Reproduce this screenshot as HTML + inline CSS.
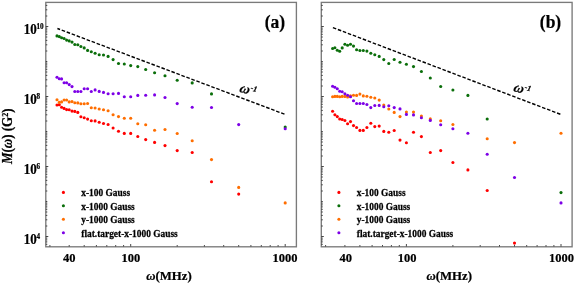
<!DOCTYPE html><html><head><meta charset="utf-8"><style>html,body{margin:0;padding:0;background:#fff;width:575px;height:284px;overflow:hidden}svg{display:block;will-change:transform}</style></head><body>
<svg width="575" height="284" viewBox="0 0 575 284">
<rect width="575" height="284" fill="#fff"/>
<rect x="45.8" y="2.4" width="250.6" height="244.4" fill="none" stroke="#7a7a7a" stroke-width="1.35"/>
<path d="M49.9 246.5V245.0M69.2 246.5V245.0M84.2 246.5V245.0M96.4 246.5V245.0M106.8 246.5V245.0M115.7 246.5V245.0M123.6 246.5V245.0M130.7 246.5V244.0M177.2 246.5V245.0M204.4 246.5V245.0M223.7 246.5V245.0M238.7 246.5V245.0M250.9 246.5V245.0M261.3 246.5V245.0M270.2 246.5V245.0M278.1 246.5V245.0M285.2 246.5V244.0M45.8 244.3H47.3M45.8 241.9H47.3M45.8 239.9H47.3M45.8 238.1H47.3M45.8 236.5H48.3M45.8 226.0H47.3M45.8 219.8H47.3M45.8 215.4H47.3M45.8 212.0H47.3M45.8 209.3H47.3M45.8 206.9H47.3M45.8 204.9H47.3M45.8 203.1H47.3M45.8 201.5H47.3M45.8 191.0H47.3M45.8 184.8H47.3M45.8 180.4H47.3M45.8 177.0H47.3M45.8 174.3H47.3M45.8 171.9H47.3M45.8 169.9H47.3M45.8 168.1H47.3M45.8 166.5H48.3M45.8 156.0H47.3M45.8 149.8H47.3M45.8 145.4H47.3M45.8 142.0H47.3M45.8 139.3H47.3M45.8 136.9H47.3M45.8 134.9H47.3M45.8 133.1H47.3M45.8 131.5H47.3M45.8 121.0H47.3M45.8 114.8H47.3M45.8 110.4H47.3M45.8 107.0H47.3M45.8 104.3H47.3M45.8 101.9H47.3M45.8 99.9H47.3M45.8 98.1H47.3M45.8 96.5H48.3M45.8 86.0H47.3M45.8 79.8H47.3M45.8 75.4H47.3M45.8 72.0H47.3M45.8 69.3H47.3M45.8 66.9H47.3M45.8 64.9H47.3M45.8 63.1H47.3M45.8 61.5H47.3M45.8 51.0H47.3M45.8 44.8H47.3M45.8 40.4H47.3M45.8 37.0H47.3M45.8 34.3H47.3M45.8 31.9H47.3M45.8 29.9H47.3M45.8 28.1H47.3M45.8 26.5H48.3M45.8 16.0H47.3M45.8 9.8H47.3M45.8 5.4H47.3" stroke="#333" stroke-width="0.9" fill="none"/>
<line x1="57.4" y1="28.5" x2="285.1" y2="114.4" stroke="#000" stroke-width="1.4" stroke-dasharray="3.55,1.78" stroke-dashoffset="0.7"/>
<g fill="#ff0000"><circle cx="57.0" cy="105.0" r="1.55"/><circle cx="59.3" cy="104.8" r="1.55"/><circle cx="61.6" cy="107.2" r="1.55"/><circle cx="64.1" cy="108.4" r="1.55"/><circle cx="66.6" cy="109.6" r="1.55"/><circle cx="69.2" cy="109.8" r="1.55"/><circle cx="72.0" cy="111.1" r="1.55"/><circle cx="74.8" cy="111.4" r="1.55"/><circle cx="77.8" cy="112.4" r="1.55"/><circle cx="80.9" cy="116.7" r="1.55"/><circle cx="84.2" cy="117.7" r="1.55"/><circle cx="87.6" cy="119.1" r="1.55"/><circle cx="91.3" cy="120.7" r="1.55"/><circle cx="95.1" cy="120.9" r="1.55"/><circle cx="99.2" cy="122.2" r="1.55"/><circle cx="103.5" cy="123.5" r="1.55"/><circle cx="108.1" cy="124.5" r="1.55"/><circle cx="113.1" cy="128.0" r="1.55"/><circle cx="118.5" cy="131.3" r="1.55"/><circle cx="124.3" cy="133.4" r="1.55"/><circle cx="130.7" cy="133.4" r="1.55"/><circle cx="137.8" cy="136.5" r="1.55"/><circle cx="145.7" cy="139.6" r="1.55"/><circle cx="154.6" cy="142.4" r="1.55"/><circle cx="165.0" cy="145.6" r="1.55"/><circle cx="177.2" cy="150.6" r="1.55"/><circle cx="192.2" cy="152.5" r="1.55"/><circle cx="211.5" cy="181.7" r="1.55"/><circle cx="238.7" cy="194.1" r="1.55"/></g>
<g fill="#0a6e0a"><circle cx="57.0" cy="35.9" r="1.55"/><circle cx="59.3" cy="36.6" r="1.55"/><circle cx="61.6" cy="37.7" r="1.55"/><circle cx="64.1" cy="38.5" r="1.55"/><circle cx="66.6" cy="40.1" r="1.55"/><circle cx="69.2" cy="40.9" r="1.55"/><circle cx="72.0" cy="42.1" r="1.55"/><circle cx="74.8" cy="44.5" r="1.55"/><circle cx="77.8" cy="44.7" r="1.55"/><circle cx="80.9" cy="46.5" r="1.55"/><circle cx="84.2" cy="47.9" r="1.55"/><circle cx="87.6" cy="50.4" r="1.55"/><circle cx="91.3" cy="51.8" r="1.55"/><circle cx="95.1" cy="53.2" r="1.55"/><circle cx="99.2" cy="54.8" r="1.55"/><circle cx="103.5" cy="55.0" r="1.55"/><circle cx="108.1" cy="56.4" r="1.55"/><circle cx="113.1" cy="59.6" r="1.55"/><circle cx="118.5" cy="63.5" r="1.55"/><circle cx="124.3" cy="64.0" r="1.55"/><circle cx="130.7" cy="65.6" r="1.55"/><circle cx="137.8" cy="66.6" r="1.55"/><circle cx="145.7" cy="69.5" r="1.55"/><circle cx="154.6" cy="72.8" r="1.55"/><circle cx="165.0" cy="75.7" r="1.55"/><circle cx="177.2" cy="80.3" r="1.55"/><circle cx="192.2" cy="82.9" r="1.55"/><circle cx="211.5" cy="93.9" r="1.55"/><circle cx="285.2" cy="127.1" r="1.55"/></g>
<g fill="#ff6e00"><circle cx="57.0" cy="99.8" r="1.55"/><circle cx="59.3" cy="102.4" r="1.55"/><circle cx="61.6" cy="101.9" r="1.55"/><circle cx="64.1" cy="100.0" r="1.55"/><circle cx="66.6" cy="100.0" r="1.55"/><circle cx="69.2" cy="101.9" r="1.55"/><circle cx="72.0" cy="101.6" r="1.55"/><circle cx="74.8" cy="102.7" r="1.55"/><circle cx="77.8" cy="102.9" r="1.55"/><circle cx="80.9" cy="103.7" r="1.55"/><circle cx="84.2" cy="103.7" r="1.55"/><circle cx="87.6" cy="103.5" r="1.55"/><circle cx="91.3" cy="107.7" r="1.55"/><circle cx="95.1" cy="108.0" r="1.55"/><circle cx="99.2" cy="109.0" r="1.55"/><circle cx="103.5" cy="109.8" r="1.55"/><circle cx="108.1" cy="110.8" r="1.55"/><circle cx="113.1" cy="114.8" r="1.55"/><circle cx="118.5" cy="116.6" r="1.55"/><circle cx="124.3" cy="118.2" r="1.55"/><circle cx="130.7" cy="118.2" r="1.55"/><circle cx="137.8" cy="123.8" r="1.55"/><circle cx="145.7" cy="124.8" r="1.55"/><circle cx="154.6" cy="130.3" r="1.55"/><circle cx="165.0" cy="129.5" r="1.55"/><circle cx="177.2" cy="133.5" r="1.55"/><circle cx="192.2" cy="140.8" r="1.55"/><circle cx="211.5" cy="159.6" r="1.55"/><circle cx="238.7" cy="187.4" r="1.55"/><circle cx="285.2" cy="202.9" r="1.55"/></g>
<g fill="#7d00e6"><circle cx="57.0" cy="77.2" r="1.55"/><circle cx="59.3" cy="78.7" r="1.55"/><circle cx="61.6" cy="78.9" r="1.55"/><circle cx="64.1" cy="82.7" r="1.55"/><circle cx="66.6" cy="82.7" r="1.55"/><circle cx="69.2" cy="84.6" r="1.55"/><circle cx="72.0" cy="86.6" r="1.55"/><circle cx="74.8" cy="91.5" r="1.55"/><circle cx="77.8" cy="91.5" r="1.55"/><circle cx="80.9" cy="91.5" r="1.55"/><circle cx="84.2" cy="88.8" r="1.55"/><circle cx="87.6" cy="88.8" r="1.55"/><circle cx="91.3" cy="91.5" r="1.55"/><circle cx="95.1" cy="89.9" r="1.55"/><circle cx="99.2" cy="91.4" r="1.55"/><circle cx="103.5" cy="92.4" r="1.55"/><circle cx="108.1" cy="93.8" r="1.55"/><circle cx="113.1" cy="93.8" r="1.55"/><circle cx="118.5" cy="93.4" r="1.55"/><circle cx="124.3" cy="96.7" r="1.55"/><circle cx="130.7" cy="96.7" r="1.55"/><circle cx="137.8" cy="95.4" r="1.55"/><circle cx="145.7" cy="95.3" r="1.55"/><circle cx="154.6" cy="94.9" r="1.55"/><circle cx="165.0" cy="97.5" r="1.55"/><circle cx="177.2" cy="103.6" r="1.55"/><circle cx="192.2" cy="107.2" r="1.55"/><circle cx="211.5" cy="107.5" r="1.55"/><circle cx="238.7" cy="124.6" r="1.55"/><circle cx="285.2" cy="128.8" r="1.55"/></g>
<rect x="321.3" y="2.4" width="250.8" height="244.4" fill="none" stroke="#7a7a7a" stroke-width="1.35"/>
<path d="M325.6 246.5V245.0M344.9 246.5V245.0M359.9 246.5V245.0M372.1 246.5V245.0M382.5 246.5V245.0M391.4 246.5V245.0M399.3 246.5V245.0M406.4 246.5V244.0M452.9 246.5V245.0M480.2 246.5V245.0M499.5 246.5V245.0M514.5 246.5V245.0M526.7 246.5V245.0M537.1 246.5V245.0M546.0 246.5V245.0M553.9 246.5V245.0M561.0 246.5V244.0M321.3 244.3H322.8M321.3 241.9H322.8M321.3 239.9H322.8M321.3 238.1H322.8M321.3 236.5H323.8M321.3 226.0H322.8M321.3 219.8H322.8M321.3 215.4H322.8M321.3 212.0H322.8M321.3 209.3H322.8M321.3 206.9H322.8M321.3 204.9H322.8M321.3 203.1H322.8M321.3 201.5H322.8M321.3 191.0H322.8M321.3 184.8H322.8M321.3 180.4H322.8M321.3 177.0H322.8M321.3 174.3H322.8M321.3 171.9H322.8M321.3 169.9H322.8M321.3 168.1H322.8M321.3 166.5H323.8M321.3 156.0H322.8M321.3 149.8H322.8M321.3 145.4H322.8M321.3 142.0H322.8M321.3 139.3H322.8M321.3 136.9H322.8M321.3 134.9H322.8M321.3 133.1H322.8M321.3 131.5H322.8M321.3 121.0H322.8M321.3 114.8H322.8M321.3 110.4H322.8M321.3 107.0H322.8M321.3 104.3H322.8M321.3 101.9H322.8M321.3 99.9H322.8M321.3 98.1H322.8M321.3 96.5H323.8M321.3 86.0H322.8M321.3 79.8H322.8M321.3 75.4H322.8M321.3 72.0H322.8M321.3 69.3H322.8M321.3 66.9H322.8M321.3 64.9H322.8M321.3 63.1H322.8M321.3 61.5H322.8M321.3 51.0H322.8M321.3 44.8H322.8M321.3 40.4H322.8M321.3 37.0H322.8M321.3 34.3H322.8M321.3 31.9H322.8M321.3 29.9H322.8M321.3 28.1H322.8M321.3 26.5H323.8M321.3 16.0H322.8M321.3 9.8H322.8M321.3 5.4H322.8" stroke="#333" stroke-width="0.9" fill="none"/>
<line x1="332.9" y1="27.6" x2="560.7" y2="114.4" stroke="#000" stroke-width="1.4" stroke-dasharray="3.55,1.78"/>
<g fill="#ff0000"><circle cx="332.6" cy="111.3" r="1.55"/><circle cx="334.9" cy="114.8" r="1.55"/><circle cx="337.3" cy="116.6" r="1.55"/><circle cx="339.7" cy="119.0" r="1.55"/><circle cx="342.2" cy="119.5" r="1.55"/><circle cx="344.9" cy="120.5" r="1.55"/><circle cx="347.6" cy="123.8" r="1.55"/><circle cx="350.5" cy="121.6" r="1.55"/><circle cx="353.5" cy="125.6" r="1.55"/><circle cx="356.6" cy="127.5" r="1.55"/><circle cx="359.9" cy="130.4" r="1.55"/><circle cx="363.3" cy="130.4" r="1.55"/><circle cx="366.9" cy="127.5" r="1.55"/><circle cx="370.8" cy="123.3" r="1.55"/><circle cx="374.8" cy="126.6" r="1.55"/><circle cx="379.2" cy="126.1" r="1.55"/><circle cx="383.8" cy="131.4" r="1.55"/><circle cx="388.8" cy="132.2" r="1.55"/><circle cx="394.2" cy="130.5" r="1.55"/><circle cx="400.0" cy="140.1" r="1.55"/><circle cx="406.4" cy="142.7" r="1.55"/><circle cx="413.5" cy="132.3" r="1.55"/><circle cx="421.4" cy="136.6" r="1.55"/><circle cx="430.3" cy="152.5" r="1.55"/><circle cx="440.7" cy="150.6" r="1.55"/><circle cx="452.9" cy="162.5" r="1.55"/><circle cx="467.9" cy="169.9" r="1.55"/><circle cx="487.2" cy="190.5" r="1.55"/><circle cx="514.5" cy="243.1" r="1.55"/></g>
<g fill="#0a6e0a"><circle cx="332.6" cy="48.5" r="1.55"/><circle cx="334.9" cy="47.7" r="1.55"/><circle cx="337.3" cy="50.3" r="1.55"/><circle cx="339.7" cy="51.2" r="1.55"/><circle cx="342.2" cy="47.9" r="1.55"/><circle cx="344.9" cy="44.3" r="1.55"/><circle cx="347.6" cy="45.3" r="1.55"/><circle cx="350.5" cy="44.2" r="1.55"/><circle cx="353.5" cy="46.1" r="1.55"/><circle cx="356.6" cy="49.8" r="1.55"/><circle cx="359.9" cy="50.5" r="1.55"/><circle cx="363.3" cy="50.5" r="1.55"/><circle cx="366.9" cy="51.1" r="1.55"/><circle cx="370.8" cy="53.3" r="1.55"/><circle cx="374.8" cy="54.7" r="1.55"/><circle cx="379.2" cy="56.4" r="1.55"/><circle cx="383.8" cy="59.6" r="1.55"/><circle cx="388.8" cy="63.5" r="1.55"/><circle cx="394.2" cy="59.5" r="1.55"/><circle cx="400.0" cy="62.2" r="1.55"/><circle cx="406.4" cy="64.3" r="1.55"/><circle cx="413.5" cy="66.6" r="1.55"/><circle cx="421.4" cy="71.5" r="1.55"/><circle cx="430.3" cy="78.0" r="1.55"/><circle cx="440.7" cy="86.5" r="1.55"/><circle cx="452.9" cy="90.0" r="1.55"/><circle cx="467.9" cy="95.4" r="1.55"/><circle cx="487.2" cy="119.0" r="1.55"/><circle cx="561.0" cy="192.6" r="1.55"/></g>
<g fill="#ff6e00"><circle cx="332.6" cy="96.7" r="1.55"/><circle cx="334.9" cy="96.4" r="1.55"/><circle cx="337.3" cy="96.4" r="1.55"/><circle cx="339.7" cy="96.7" r="1.55"/><circle cx="342.2" cy="96.4" r="1.55"/><circle cx="344.9" cy="96.4" r="1.55"/><circle cx="347.6" cy="96.9" r="1.55"/><circle cx="350.5" cy="95.9" r="1.55"/><circle cx="353.5" cy="95.2" r="1.55"/><circle cx="356.6" cy="95.4" r="1.55"/><circle cx="359.9" cy="94.1" r="1.55"/><circle cx="363.3" cy="95.9" r="1.55"/><circle cx="366.9" cy="96.2" r="1.55"/><circle cx="370.8" cy="97.2" r="1.55"/><circle cx="374.8" cy="98.0" r="1.55"/><circle cx="379.2" cy="100.1" r="1.55"/><circle cx="383.8" cy="105.1" r="1.55"/><circle cx="388.8" cy="109.0" r="1.55"/><circle cx="394.2" cy="112.4" r="1.55"/><circle cx="400.0" cy="116.6" r="1.55"/><circle cx="406.4" cy="112.1" r="1.55"/><circle cx="413.5" cy="112.1" r="1.55"/><circle cx="421.4" cy="116.1" r="1.55"/><circle cx="430.3" cy="118.9" r="1.55"/><circle cx="440.7" cy="120.8" r="1.55"/><circle cx="452.9" cy="124.5" r="1.55"/><circle cx="487.2" cy="138.7" r="1.55"/><circle cx="514.5" cy="142.6" r="1.55"/><circle cx="561.0" cy="133.2" r="1.55"/></g>
<g fill="#7d00e6"><circle cx="332.6" cy="86.3" r="1.55"/><circle cx="334.9" cy="87.2" r="1.55"/><circle cx="337.3" cy="88.8" r="1.55"/><circle cx="339.7" cy="91.2" r="1.55"/><circle cx="342.2" cy="91.8" r="1.55"/><circle cx="344.9" cy="93.8" r="1.55"/><circle cx="347.6" cy="95.2" r="1.55"/><circle cx="350.5" cy="96.8" r="1.55"/><circle cx="353.5" cy="100.7" r="1.55"/><circle cx="356.6" cy="103.5" r="1.55"/><circle cx="359.9" cy="103.5" r="1.55"/><circle cx="363.3" cy="103.5" r="1.55"/><circle cx="366.9" cy="104.5" r="1.55"/><circle cx="370.8" cy="107.6" r="1.55"/><circle cx="374.8" cy="105.5" r="1.55"/><circle cx="379.2" cy="105.4" r="1.55"/><circle cx="383.8" cy="106.7" r="1.55"/><circle cx="388.8" cy="105.8" r="1.55"/><circle cx="394.2" cy="107.6" r="1.55"/><circle cx="400.0" cy="108.9" r="1.55"/><circle cx="406.4" cy="114.4" r="1.55"/><circle cx="413.5" cy="114.9" r="1.55"/><circle cx="421.4" cy="117.8" r="1.55"/><circle cx="430.3" cy="120.4" r="1.55"/><circle cx="440.7" cy="124.7" r="1.55"/><circle cx="452.9" cy="128.7" r="1.55"/><circle cx="467.9" cy="133.3" r="1.55"/><circle cx="487.2" cy="154.2" r="1.55"/><circle cx="514.5" cy="177.5" r="1.55"/><circle cx="561.0" cy="202.9" r="1.55"/></g>
<g transform="translate(0,33.60) scale(1,1.100) translate(0,-33.60)"><text font-family="Liberation Serif" font-weight="bold" stroke="#000" stroke-width="0.22"  font-size="13.00" x="23.70" y="33.60" text-anchor="start">10</text></g>
<g transform="translate(0,28.90) scale(1,1.000) translate(0,-28.90)"><text font-family="Liberation Serif" font-weight="bold" stroke="#000" stroke-width="0.22"  font-size="7.20" x="36.40" y="28.90" text-anchor="start">10</text></g>
<g transform="translate(0,103.60) scale(1,1.100) translate(0,-103.60)"><text font-family="Liberation Serif" font-weight="bold" stroke="#000" stroke-width="0.22"  font-size="13.00" x="23.70" y="103.60" text-anchor="start">10</text></g>
<g transform="translate(0,98.90) scale(1,1.000) translate(0,-98.90)"><text font-family="Liberation Serif" font-weight="bold" stroke="#000" stroke-width="0.22"  font-size="7.20" x="36.40" y="98.90" text-anchor="start">8</text></g>
<g transform="translate(0,173.60) scale(1,1.100) translate(0,-173.60)"><text font-family="Liberation Serif" font-weight="bold" stroke="#000" stroke-width="0.22"  font-size="13.00" x="23.70" y="173.60" text-anchor="start">10</text></g>
<g transform="translate(0,168.90) scale(1,1.000) translate(0,-168.90)"><text font-family="Liberation Serif" font-weight="bold" stroke="#000" stroke-width="0.22"  font-size="7.20" x="36.40" y="168.90" text-anchor="start">6</text></g>
<g transform="translate(0,243.60) scale(1,1.100) translate(0,-243.60)"><text font-family="Liberation Serif" font-weight="bold" stroke="#000" stroke-width="0.22"  font-size="13.00" x="23.70" y="243.60" text-anchor="start">10</text></g>
<g transform="translate(0,238.90) scale(1,1.000) translate(0,-238.90)"><text font-family="Liberation Serif" font-weight="bold" stroke="#000" stroke-width="0.22"  font-size="7.20" x="36.40" y="238.90" text-anchor="start">4</text></g>
<g transform="translate(0,261.60) scale(1,1.080) translate(0,-261.60)"><text font-family="Liberation Serif" font-weight="bold" stroke="#000" stroke-width="0.22"  font-size="12.50" x="69.20" y="261.60" text-anchor="middle">40</text></g>
<g transform="translate(0,261.60) scale(1,1.080) translate(0,-261.60)"><text font-family="Liberation Serif" font-weight="bold" stroke="#000" stroke-width="0.22"  font-size="12.50" x="131.00" y="261.60" text-anchor="middle">100</text></g>
<g transform="translate(0,261.60) scale(1,1.080) translate(0,-261.60)"><text font-family="Liberation Serif" font-weight="bold" stroke="#000" stroke-width="0.22"  font-size="12.50" x="285.10" y="261.60" text-anchor="middle">1000</text></g>
<g transform="translate(0,279.70) scale(1,1.050) translate(0,-279.70)"><text font-family="Liberation Serif" font-weight="bold" stroke="#000" stroke-width="0.22"  font-size="12.80" x="146.30" y="279.70" text-anchor="start"><tspan font-style="italic">ω</tspan>(MHz)</text></g>
<g transform="translate(0,261.60) scale(1,1.080) translate(0,-261.60)"><text font-family="Liberation Serif" font-weight="bold" stroke="#000" stroke-width="0.22"  font-size="12.50" x="345.80" y="261.60" text-anchor="middle">40</text></g>
<g transform="translate(0,261.60) scale(1,1.080) translate(0,-261.60)"><text font-family="Liberation Serif" font-weight="bold" stroke="#000" stroke-width="0.22"  font-size="12.50" x="407.10" y="261.60" text-anchor="middle">100</text></g>
<g transform="translate(0,261.60) scale(1,1.080) translate(0,-261.60)"><text font-family="Liberation Serif" font-weight="bold" stroke="#000" stroke-width="0.22"  font-size="12.50" x="561.40" y="261.60" text-anchor="middle">1000</text></g>
<g transform="translate(0,279.70) scale(1,1.050) translate(0,-279.70)"><text font-family="Liberation Serif" font-weight="bold" stroke="#000" stroke-width="0.22"  font-size="12.80" x="426.50" y="279.70" text-anchor="start"><tspan font-style="italic">ω</tspan>(MHz)</text></g>
<g transform="translate(0,28.50) scale(1,1.040) translate(0,-28.50)"><text font-family="Liberation Serif" font-weight="bold" stroke="#000" stroke-width="0.22"  font-size="17.50" x="275.00" y="28.50" text-anchor="middle">(a)</text></g>
<g transform="translate(0,28.50) scale(1,1.040) translate(0,-28.50)"><text font-family="Liberation Serif" font-weight="bold" stroke="#000" stroke-width="0.22"  font-size="17.50" x="550.50" y="28.50" text-anchor="middle">(b)</text></g>
<g transform="translate(245.40,89.40) rotate(14.0)"><text font-family="Liberation Serif" font-weight="bold" stroke="#000" stroke-width="0.22" font-style="italic" font-size="14" x="-5.6" y="3.9" transform="skewX(-6)">ω</text><text font-family="Liberation Serif" font-weight="bold" stroke="#000" stroke-width="0.22" font-style="italic" font-size="8" x="4.8" y="-0.6">-</text><text font-family="Liberation Serif" font-weight="bold" stroke="#000" stroke-width="0.22" font-size="7.8" x="7.0" y="0.0" transform="skewX(-10)">1</text></g>
<g transform="translate(519.50,88.60) rotate(14.0)"><text font-family="Liberation Serif" font-weight="bold" stroke="#000" stroke-width="0.22" font-style="italic" font-size="14" x="-5.6" y="3.9" transform="skewX(-6)">ω</text><text font-family="Liberation Serif" font-weight="bold" stroke="#000" stroke-width="0.22" font-style="italic" font-size="8" x="4.8" y="-0.6">-</text><text font-family="Liberation Serif" font-weight="bold" stroke="#000" stroke-width="0.22" font-size="7.8" x="7.0" y="0.0" transform="skewX(-10)">1</text></g>
<g transform="translate(12.4,136.3) rotate(-90) scale(1,1.08)"><text font-family="Liberation Serif" font-weight="bold" stroke="#000" stroke-width="0.22" font-size="13" x="0" y="0" text-anchor="middle"><tspan font-style="italic">M</tspan>(<tspan font-style="italic">ω</tspan>) (G<tspan font-size="8" dy="-4.2">2</tspan><tspan dy="4.2">)</tspan></text></g>
<circle cx="63.4" cy="192.4" r="1.55" fill="#ff0000"/><g transform="translate(0,196.40) scale(1,1.150) translate(0,-196.40)"><text font-family="Liberation Serif" font-weight="bold" stroke="#000" stroke-width="0.22"  font-size="9.40" x="81.30" y="196.40" text-anchor="start">x-100 Gauss</text></g>
<circle cx="63.4" cy="205.8" r="1.55" fill="#0a6e0a"/><g transform="translate(0,209.85) scale(1,1.150) translate(0,-209.85)"><text font-family="Liberation Serif" font-weight="bold" stroke="#000" stroke-width="0.22"  font-size="9.40" x="81.30" y="209.85" text-anchor="start">x-1000 Gauss</text></g>
<circle cx="63.4" cy="219.3" r="1.55" fill="#ff6e00"/><g transform="translate(0,223.30) scale(1,1.150) translate(0,-223.30)"><text font-family="Liberation Serif" font-weight="bold" stroke="#000" stroke-width="0.22"  font-size="9.40" x="81.30" y="223.30" text-anchor="start">y-1000 Gauss</text></g>
<circle cx="63.4" cy="232.8" r="1.55" fill="#7d00e6"/><g transform="translate(0,236.75) scale(1,1.150) translate(0,-236.75)"><text font-family="Liberation Serif" font-weight="bold" stroke="#000" stroke-width="0.22"  font-size="9.40" x="81.30" y="236.75" text-anchor="start">flat.target-x-1000 Gauss</text></g>
<circle cx="338.9" cy="192.4" r="1.55" fill="#ff0000"/><g transform="translate(0,196.40) scale(1,1.150) translate(0,-196.40)"><text font-family="Liberation Serif" font-weight="bold" stroke="#000" stroke-width="0.22"  font-size="9.40" x="356.80" y="196.40" text-anchor="start">x-100 Gauss</text></g>
<circle cx="338.9" cy="205.8" r="1.55" fill="#0a6e0a"/><g transform="translate(0,209.85) scale(1,1.150) translate(0,-209.85)"><text font-family="Liberation Serif" font-weight="bold" stroke="#000" stroke-width="0.22"  font-size="9.40" x="356.80" y="209.85" text-anchor="start">x-1000 Gauss</text></g>
<circle cx="338.9" cy="219.3" r="1.55" fill="#ff6e00"/><g transform="translate(0,223.30) scale(1,1.150) translate(0,-223.30)"><text font-family="Liberation Serif" font-weight="bold" stroke="#000" stroke-width="0.22"  font-size="9.40" x="356.80" y="223.30" text-anchor="start">y-1000 Gauss</text></g>
<circle cx="338.9" cy="232.8" r="1.55" fill="#7d00e6"/><g transform="translate(0,236.75) scale(1,1.150) translate(0,-236.75)"><text font-family="Liberation Serif" font-weight="bold" stroke="#000" stroke-width="0.22"  font-size="9.40" x="356.80" y="236.75" text-anchor="start">flat.target-x-1000 Gauss</text></g>
</svg>
</body></html>
